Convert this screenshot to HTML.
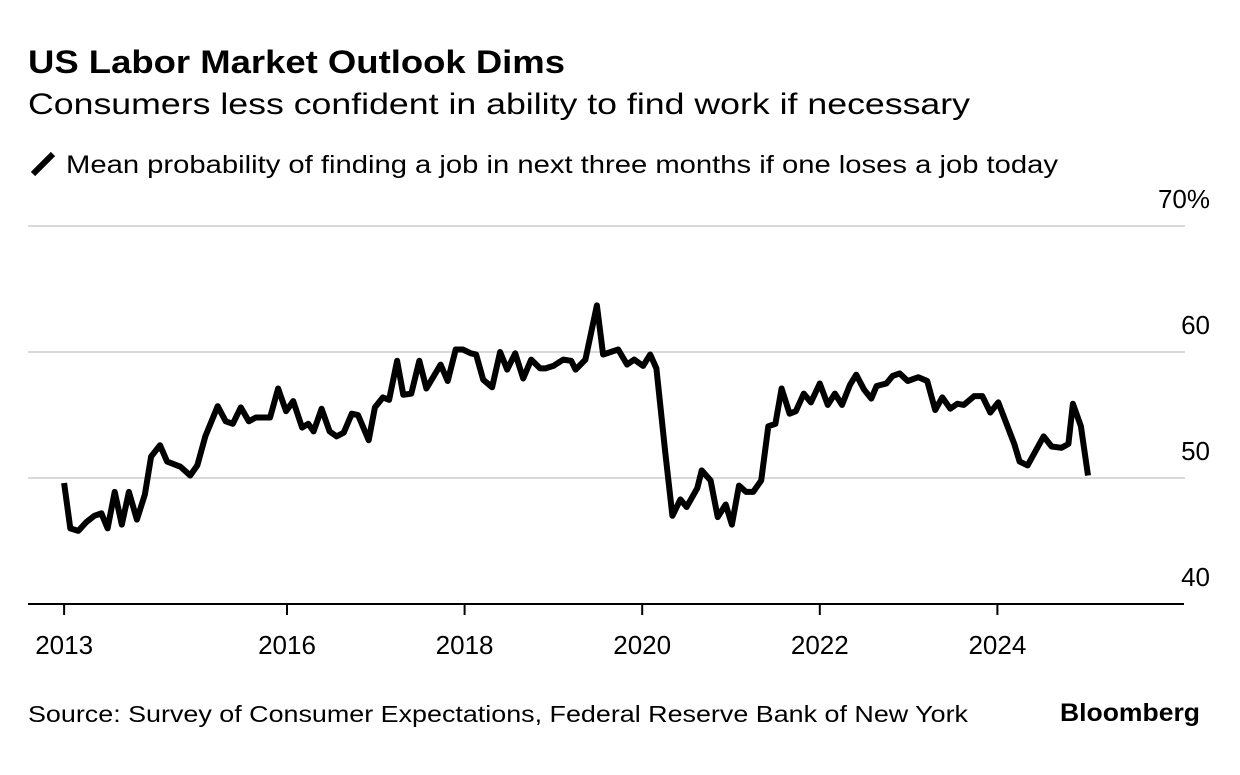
<!DOCTYPE html>
<html><head><meta charset="utf-8"><style>
body{margin:0;background:#fff;width:1240px;height:770px;overflow:hidden;font-family:"Liberation Sans",sans-serif;}
</style></head><body>
<svg width="1240" height="770" xmlns="http://www.w3.org/2000/svg">
<text x="28" y="73" font-size="32" font-weight="bold" fill="#000" textLength="537" lengthAdjust="spacingAndGlyphs">US Labor Market Outlook Dims</text>
<text x="28" y="114" font-size="30" fill="#000" textLength="942" lengthAdjust="spacingAndGlyphs">Consumers less confident in ability to find work if necessary</text>
<line x1="33" y1="174" x2="53" y2="154" stroke="#000" stroke-width="6"/>
<text x="66" y="173" font-size="25" fill="#000" textLength="992" lengthAdjust="spacingAndGlyphs">Mean probability of finding a job in next three months if one loses a job today</text>
<g id="grid"></g>
<path id="line" fill="none" stroke="#000" stroke-width="6" stroke-linejoin="round"/>
<g id="xaxis"></g>
<text x="28" y="722" font-size="23" fill="#000" textLength="940" lengthAdjust="spacingAndGlyphs">Source: Survey of Consumer Expectations, Federal Reserve Bank of New York</text>
<text x="1200" y="721" font-size="25" font-weight="bold" text-anchor="end" fill="#000" textLength="140" lengthAdjust="spacingAndGlyphs">Bloomberg</text>
</svg>
<script>
const dates=[2013.49,2013.56,2013.65,2013.74,2013.83,2013.91,2013.98,2014.06,2014.14,2014.22,2014.31,2014.40,2014.47,2014.57,2014.65,2014.80,2014.91,2014.99,2015.08,2015.22,2015.31,2015.39,2015.48,2015.57,2015.65,2015.81,2015.90,2015.99,2016.07,2016.17,2016.24,2016.30,2016.39,2016.48,2016.56,2016.64,2016.73,2016.80,2016.92,2016.99,2017.08,2017.15,2017.24,2017.31,2017.40,2017.49,2017.57,2017.73,2017.81,2017.90,2017.98,2018.07,2018.13,2018.21,2018.31,2018.40,2018.48,2018.57,2018.66,2018.75,2018.85,2018.91,2019.00,2019.11,2019.20,2019.25,2019.36,2019.49,2019.56,2019.73,2019.83,2019.91,2020.01,2020.09,2020.16,2020.26,2020.34,2020.43,2020.50,2020.62,2020.67,2020.77,2020.85,2020.94,2021.01,2021.09,2021.17,2021.25,2021.34,2021.42,2021.50,2021.57,2021.66,2021.73,2021.82,2021.90,2022.00,2022.09,2022.17,2022.25,2022.34,2022.41,2022.50,2022.58,2022.64,2022.75,2022.82,2022.90,2022.99,2023.11,2023.21,2023.30,2023.38,2023.47,2023.55,2023.62,2023.74,2023.83,2023.92,2024.01,2024.19,2024.25,2024.34,2024.52,2024.61,2024.72,2024.80,2024.85,2024.94,2025.02];
const values=[49.6,46.0,45.8,46.5,47.0,47.2,46.0,48.9,46.3,48.9,46.7,48.7,51.7,52.6,51.3,50.9,50.2,51.0,53.3,55.7,54.5,54.3,55.6,54.5,54.8,54.8,57.1,55.3,56.1,54.0,54.3,53.7,55.5,53.7,53.3,53.6,55.1,55.0,53.0,55.6,56.4,56.2,59.3,56.6,56.7,59.3,57.1,59.0,57.7,60.2,60.2,59.9,59.8,57.8,57.2,60.0,58.6,59.9,57.9,59.4,58.7,58.7,58.9,59.4,59.3,58.6,59.4,63.7,59.8,60.2,59.0,59.4,58.9,59.8,58.7,52.0,47.0,48.3,47.7,49.2,50.6,49.8,46.9,47.9,46.3,49.4,48.9,48.9,49.8,54.1,54.3,57.1,55.1,55.3,56.7,56.0,57.5,55.8,56.7,55.8,57.4,58.2,57.0,56.3,57.3,57.5,58.1,58.3,57.7,58.0,57.7,55.4,56.4,55.5,55.9,55.8,56.5,56.5,55.2,56.0,52.7,51.3,51.0,53.3,52.5,52.4,52.7,55.9,54.1,50.2];
const yTicks=[40,50,60,70];
const yTickLabels=["40","50","60","70%"];
const xTicks=[2013.49,2016,2018,2020,2022,2024];
const xTickLabels=["2013","2016","2018","2020","2022","2024"];
const NS="http://www.w3.org/2000/svg";
const X=d=>287+(d-2016)*88.8;
const Y=v=>604-(v-40)*12.6;
const grid=document.getElementById('grid');
yTicks.forEach((t,i)=>{
  if(t>40){const l=document.createElementNS(NS,'line');
  l.setAttribute('x1',28);l.setAttribute('x2',1185);l.setAttribute('y1',Y(t));l.setAttribute('y2',Y(t));
  l.setAttribute('stroke','#d9d9d9');l.setAttribute('stroke-width',2);
  
  
  grid.appendChild(l);}
  const tx=document.createElementNS(NS,'text');
  tx.setAttribute('x',1210);tx.setAttribute('y',Y(t)-18);tx.setAttribute('text-anchor','end');
  tx.setAttribute('font-size',26);tx.textContent=yTickLabels[i];
  
  
  grid.appendChild(tx);
});
const xa=document.getElementById('xaxis');
const ax=document.createElementNS(NS,'line');
ax.setAttribute('x1',28);ax.setAttribute('x2',1184);ax.setAttribute('y1',604);ax.setAttribute('y2',604);
ax.setAttribute('stroke','#000');ax.setAttribute('stroke-width',2);


xa.appendChild(ax);
xTicks.forEach((t,i)=>{
  const tk=document.createElementNS(NS,'line');
  tk.setAttribute('x1',X(t));tk.setAttribute('x2',X(t));tk.setAttribute('y1',604);tk.setAttribute('y2',615);
  tk.setAttribute('stroke','#000');tk.setAttribute('stroke-width',2);
  
  
  xa.appendChild(tk);
  const tx=document.createElementNS(NS,'text');
  tx.setAttribute('x',X(t));tx.setAttribute('y',654);tx.setAttribute('text-anchor','middle');
  tx.setAttribute('font-size',26);tx.textContent=xTickLabels[i];
  
  
  xa.appendChild(tx);
});
document.getElementById('line').setAttribute('d',dates.map((d,i)=>(i?'L':'M')+X(d).toFixed(1)+','+Y(values[i]).toFixed(1)).join(''));
</script>
</body></html>
